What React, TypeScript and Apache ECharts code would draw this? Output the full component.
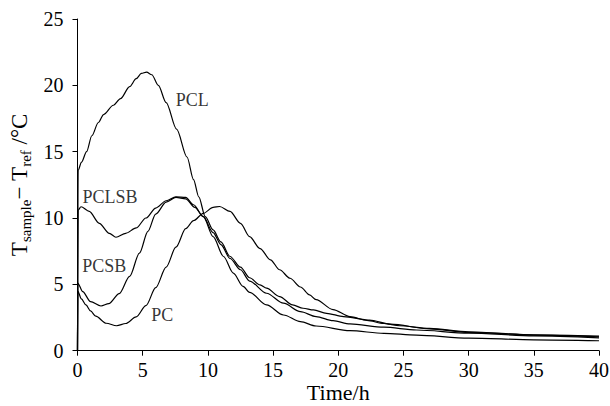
import React, { useEffect, useRef } from "react";
import * as echarts from "echarts";

// ---- data (time in h, temperature difference in °C) ----
const pcTime = [0, 0.02, 0.3, 0.65, 1.0, 1.4, 2.2, 3.0, 3.7, 4.5, 5.25, 6.0, 6.8, 7.55, 8.3, 8.9, 9.65, 10.4, 10.9, 11.7, 12.5, 13.2, 14.0, 14.8, 15.5, 16.3, 17.1, 17.8, 18.3, 19.6, 20.9, 22.2, 23.5, 24.7, 27.0, 30.0, 35.0, 40.0];
const pcValue = [0, 4.5, 3.9, 3.45, 3.0, 2.6, 2.07, 1.88, 2.05, 2.55, 3.4, 4.75, 6.3, 7.8, 9.2, 9.8, 10.35, 10.8, 10.87, 10.5, 9.6, 8.6, 7.7, 6.85, 6.1, 5.46, 4.8, 4.2, 3.85, 3.1, 2.57, 2.28, 2.05, 1.88, 1.68, 1.43, 1.18, 1.05];

const pclTime = [0, 0.05, 0.3, 0.7, 1.1, 1.6, 2.0, 2.75, 3.3, 4.0, 4.5, 4.9, 5.3, 5.7, 6.2, 6.8, 7.6, 8.4, 8.9, 9.3, 9.8, 10.4, 11.0, 11.7, 12.5, 13.2, 14.0, 14.5, 15.5, 16.5, 17.3, 18.1, 19.1, 20.4, 22.4, 24.0, 27.0, 30.0, 35.0, 40.0];
const pclValue = [0, 13.6, 14.2, 15.0, 16.2, 17.2, 17.8, 18.5, 19.0, 19.9, 20.5, 20.9, 21.0, 20.8, 20.0, 18.7, 16.7, 14.6, 12.9, 11.6, 10.1, 9.1, 8.2, 7.1, 6.3, 5.5, 4.96, 4.71, 4.08, 3.45, 3.2, 3.07, 2.82, 2.57, 2.3, 2.0, 1.65, 1.38, 1.2, 1.1];

const pcsbTime = [0, 0.02, 0.4, 1.0, 1.8, 2.4, 3.2, 4.0, 4.75, 5.4, 6.0, 6.8, 7.55, 8.3, 9.0, 9.65, 10.4, 11.0, 11.7, 12.5, 13.2, 14.5, 15.8, 17.1, 18.3, 19.6, 20.9, 23.5, 26.0, 30.0, 35.0, 40.0];
const pcsbValue = [0, 5.1, 4.45, 3.7, 3.37, 3.55, 4.3, 5.6, 7.35, 9.0, 10.3, 11.2, 11.55, 11.45, 10.8, 10.1, 8.9, 8.0, 6.95, 6.1, 5.25, 4.33, 3.58, 2.94, 2.57, 2.26, 2.02, 1.77, 1.56, 1.33, 1.12, 0.97];

const pclsbTime = [0, 0.05, 0.27, 0.9, 1.67, 2.44, 2.95, 3.7, 4.5, 5.25, 6.0, 6.8, 7.55, 8.3, 8.9, 9.65, 10.4, 11.2, 11.95, 12.7, 13.2, 14.5, 15.8, 17.1, 18.3, 20.9, 23.5, 26.0, 30.0, 35.0, 40.0];
const pclsbValue = [0, 10.6, 10.85, 10.5, 9.6, 8.85, 8.55, 8.85, 9.25, 10.0, 10.75, 11.3, 11.6, 11.55, 11.0, 10.1, 8.6, 7.1, 5.85, 4.85, 4.4, 3.45, 2.69, 2.19, 1.86, 1.51, 1.31, 1.18, 0.95, 0.82, 0.75];

const xTicks = [0, 5, 10, 15, 20, 25, 30, 35, 40];
const yTicks = [0, 5, 10, 15, 20, 25];

const curveLabels = [
  { name: "PCL", t: 8.8, v: 18.9 },
  { name: "PCLSB", t: 2.5, v: 11.6 },
  { name: "PCSB", t: 2.05, v: 6.4 },
  { name: "PC", t: 6.5, v: 2.7 },
];

const pairs = (ts: number[], vs: number[]) => ts.map((t, i) => [t, vs[i]]);

const FONT = "Liberation Serif";

export default function App() {
  const ref = useRef<HTMLDivElement>(null);
  useEffect(() => {
    document.body.style.margin = "0";
    if (!ref.current) return;
    const chart = echarts.init(ref.current, undefined, { renderer: "svg" });
    const lineStyle = { color: "#000", width: 1.2 };
    const mkSeries = (name: string, ts: number[], vs: number[]) => ({
      name,
      type: "line",
      data: pairs(ts, vs),
      showSymbol: false,
      symbol: "none",
      smooth: 0.3,
      smoothMonotone: "x",
      lineStyle,
      silent: true,
    });
    chart.setOption({
      animation: false,
      backgroundColor: "#fff",
      textStyle: { fontFamily: FONT, color: "#000" },
      grid: { left: 77.5, right: 11, top: 19, bottom: 55.3, containLabel: false, outerBoundsMode: "none" },
      xAxis: {
        type: "value",
        min: xTicks[0],
        max: xTicks[xTicks.length - 1],
        interval: 5,
        name: "Time/h",
        nameLocation: "middle",
        nameGap: 30,
        nameMoveOverlap: false,
        nameTextStyle: { fontFamily: FONT, fontSize: 22, lineHeight: 24, color: "#000" },
        axisLine: { show: true, lineStyle: { color: "#000", width: 1 } },
        axisTick: { show: true, inside: false, length: 5, lineStyle: { color: "#000" } },
        axisLabel: { fontFamily: FONT, fontSize: 20, color: "#000", margin: 9 },
        splitLine: { show: false },
      },
      yAxis: {
        type: "value",
        min: yTicks[0],
        max: yTicks[yTicks.length - 1],
        interval: 5,
        name: "{m|T}{s|sample}{m|− T}{s|ref}{m| /°C}",
        nameLocation: "middle",
        nameRotate: 90,
        nameGap: 44,
        nameMoveOverlap: false,
        nameTextStyle: {
          fontFamily: FONT,
          color: "#000",
          rich: {
            m: { fontFamily: FONT, fontSize: 23, color: "#000", lineHeight: 28, verticalAlign: "middle" },
            s: { fontFamily: FONT, fontSize: 15, color: "#000", lineHeight: 15, verticalAlign: "bottom" },
          },
        },
        axisLine: { show: true, lineStyle: { color: "#000", width: 1 } },
        axisTick: { show: true, inside: false, length: 5, lineStyle: { color: "#000" } },
        axisLabel: { fontFamily: FONT, fontSize: 20, color: "#000", margin: 14 },
        splitLine: { show: false },
      },
      series: [
        mkSeries("PC", pcTime, pcValue),
        mkSeries("PCL", pclTime, pclValue),
        mkSeries("PCSB", pcsbTime, pcsbValue),
        mkSeries("PCLSB", pclsbTime, pclsbValue),
        {
          type: "scatter",
          silent: true,
          symbolSize: 0,
          data: curveLabels.map((l) => ({ value: [l.t, l.v], name: l.name })),
          label: {
            show: true,
            position: "inside",
            formatter: (p: any) => p.name,
            fontFamily: FONT,
            fontSize: 18,
            color: "#000",
          },
        },
      ],
    });
    return () => chart.dispose();
  }, []);
  return <div ref={ref} style={{ width: 610, height: 406 }} />;
}
